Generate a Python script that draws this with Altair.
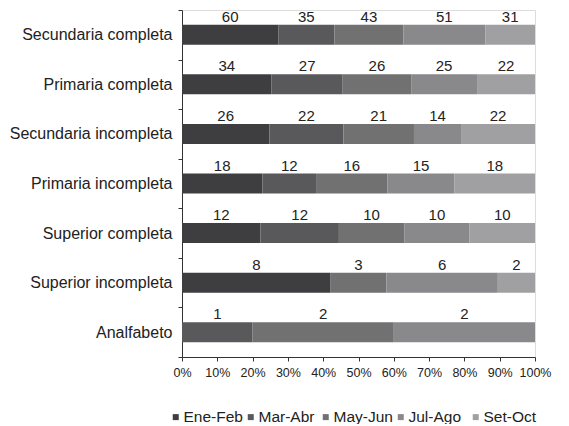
import altair as alt
import pandas as pd

categories = ["Secundaria completa", "Primaria completa", "Secundaria incompleta",
              "Primaria incompleta", "Superior completa", "Superior incompleta", "Analfabeto"]
series = ["Ene-Feb", "Mar-Abr", "May-Jun", "Jul-Ago", "Set-Oct"]
ene_feb = [60, 34, 26, 18, 12, 8, 0]
mar_abr = [35, 27, 22, 12, 12, 0, 1]
may_jun = [43, 26, 21, 16, 10, 3, 2]
jul_ago = [51, 25, 14, 15, 10, 6, 2]
set_oct = [31, 22, 22, 18, 10, 2, 0]
tick_values = [0.0, 0.1, 0.2, 0.3, 0.4, 0.5, 0.6, 0.7, 0.8, 0.9, 1.0]
colors = ["#3e3e40", "#59595b", "#717172", "#89898b", "#a0a0a2"]

rows = []
for s_i, (s, vals) in enumerate(zip(series, [ene_feb, mar_abr, may_jun, jul_ago, set_oct])):
    for c, v in zip(categories, vals):
        rows.append({"categoria": c, "periodo": s, "valor": v, "orden": s_i})
df = pd.DataFrame(rows)

FONT = "Liberation Sans"

x_axis = alt.Axis(format="%", values=tick_values, grid=False,
                  labelFontSize=12.5, labelColor="#222222", labelFont=FONT,
                  labelOverlap=False, labelFlush=False, tickCount=11,
                  tickSize=4, labelPadding=5, domainColor="#333333",
                  tickColor="#333333")
x_scale = alt.Scale(domain=[0, 1], nice=False)

y_enc = alt.Y("categoria:N", sort=categories, title=None,
              scale=alt.Scale(paddingInner=0, paddingOuter=0),
              axis=alt.Axis(labelFontSize=16, labelColor="#222222", labelFont=FONT,
                            labelPadding=6, tickSize=4, tickBand="extent",
                            domainColor="#333333", tickColor="#333333", labelLimit=300))

bars = alt.Chart(df).mark_bar(size=20).encode(
    x=alt.X("valor:Q", stack="normalize", title=None, scale=x_scale, axis=x_axis),
    y=y_enc,
    color=alt.Color("periodo:N", sort=series,
                    scale=alt.Scale(domain=series, range=colors),
                    legend=alt.Legend(title=None, orient="none", direction="horizontal",
                                      columns=5, legendX=-14, legendY=399,
                                      symbolType="square", symbolSize=36,
                                      symbolStrokeWidth=0, labelFontSize=15.5,
                                      labelFont=FONT, labelColor="#222222",
                                      labelOffset=0, columnPadding=0, gridAlign="all")),
    order=alt.Order("orden:Q"),
)

labels = alt.Chart(df).transform_joinaggregate(
    total="sum(valor)", groupby=["categoria"]
).transform_calculate(
    frac="datum.valor / datum.total"
).transform_window(
    cum="sum(frac)", sort=[alt.SortField("orden")], groupby=["categoria"],
    frame=[None, 0]
).transform_calculate(
    mid="datum.cum - datum.frac / 2"
).transform_filter(
    "datum.valor > 0"
).mark_text(fontSize=15, font=FONT, color="#222222", dy=-18, baseline="middle").encode(
    x=alt.X("mid:Q", title=None, scale=x_scale, axis=x_axis),
    y=alt.Y("categoria:N", sort=categories),
    text=alt.Text("valor:Q"),
)

chart = alt.layer(bars, labels).properties(
    width=353, height=347,
    autosize=alt.AutoSizeParams(type="none"),
    padding={"left": 174, "top": 2, "right": 18, "bottom": 67},
).configure_view(stroke=None).configure(background="white")

chart.save("out.html", embed_options={"renderer": "svg", "actions": False})
